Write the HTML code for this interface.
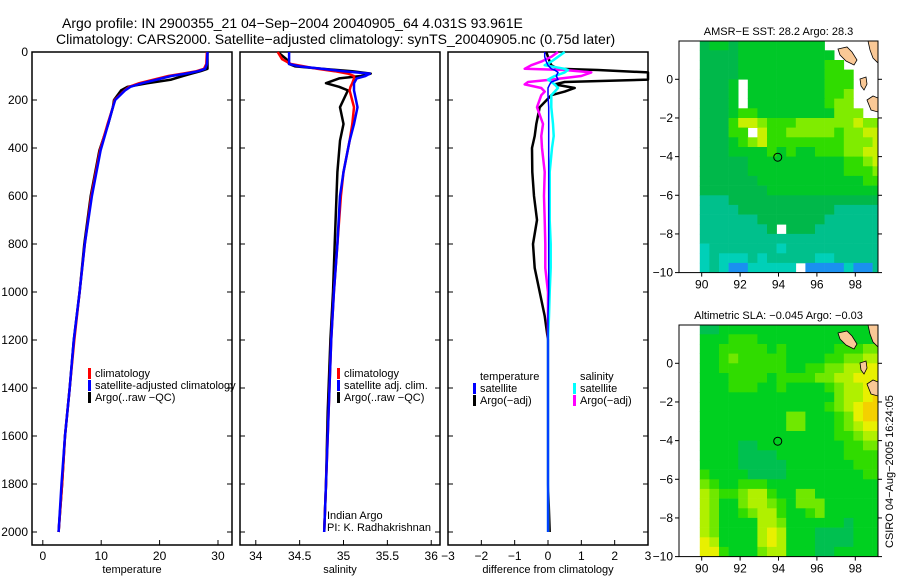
<!DOCTYPE html>
<html><head><meta charset="utf-8"><title>Argo profile</title>
<style>
html,body{margin:0;padding:0;background:#fff;}
svg{display:block;font-family:"Liberation Sans",sans-serif;}
text{font-size:12px;fill:#000;}
</style></head>
<body>
<svg id="fig" width="900" height="580" viewBox="0 0 900 580" xmlns="http://www.w3.org/2000/svg">
<text x="62" y="28" style="font-size:14px">Argo profile: IN 2900355_21 04−Sep−2004 20040905_64 4.031S 93.961E</text>
<text x="56" y="44" style="font-size:14px">Climatology: CARS2000. Satellite−adjusted climatology: synTS_20040905.nc (0.75d later)</text>
<g id="layer"></g>
</svg>
<script>
// ---- profile data ----
const depthTicks = [0,200,400,600,800,1000,1200,1400,1600,1800,2000];
const tempTicks = [0,10,20,30];
const salTicks = [34,34.5,35,35.5,36];
const diffTicks = [-3,-2,-1,0,1,2,3];

const tempDepth = [0,50,70,80,90,100,115,130,145,160,200,230,300,410,600,800,1000,1200,1400,1600,1800,2000];
const tempArgo  = [28.2,28.2,28.2,27.0,25.5,24.0,22.0,18.0,14.5,13.4,12.2,12.0,11.2,9.7,8.2,7.1,6.3,5.3,4.6,3.8,3.3,2.7];
const tempClim  = [28.1,28.0,27.6,26.3,24.0,21.5,19.0,16.5,14.8,14.0,12.3,12.0,11.1,9.8,8.3,7.2,6.3,5.4,4.6,3.8,3.3,2.7];
const tempSat   = [28.2,28.1,27.8,26.6,24.5,22.0,19.5,17.0,15.0,14.1,12.4,12.0,11.2,9.9,8.4,7.2,6.3,5.3,4.6,3.8,3.2,2.7];

const salDepth = [0,30,50,60,70,80,90,100,110,130,145,160,230,300,370,500,600,800,1000,1200,1500,1800,2000];
const salArgo  = [34.25,34.35,34.38,34.45,34.75,35.1,35.31,35.2,34.95,34.8,34.95,35.05,34.96,35.0,34.96,34.93,34.92,34.9,34.88,34.85,34.82,34.8,34.78];
const salClim  = [34.25,34.3,34.4,34.55,34.7,34.9,35.05,35.12,35.12,35.1,35.08,35.07,35.12,35.1,35.07,35.0,34.97,34.93,34.89,34.86,34.83,34.8,34.78];
const salSat   = [34.38,34.38,34.38,34.5,34.75,35.0,35.3,35.25,35.15,35.12,35.12,35.12,35.16,35.12,35.07,35.0,34.96,34.93,34.89,34.86,34.83,34.8,34.78];

const diffDepth    = [0,20,40,55,70,75,85,100,115,125,135,150,165,180,230,300,350,400,500,600,700,800,900,1000,1100,1200,1500,1800,2000];
const diffTempArgo = [-0.05,0,0.05,0.1,0.3,1.5,3.5,3.8,3.6,0.5,0.2,0.8,0.5,0.1,-0.25,-0.35,-0.4,-0.48,-0.47,-0.42,-0.33,-0.45,-0.4,-0.25,-0.1,0.0,0.0,0.0,0.05];
const diffTempSat  = [-0.1,-0.1,-0.05,0,0.1,0.2,0.3,0.25,0.3,0.1,0.05,0,0,0,0.02,0.02,0.02,0.02,0.02,0.02,0.02,0.02,0.02,0.02,0.0,0.0,0.0,0.0,0.0];
const diffSalSat   = [0.5,0.3,0.1,-0.1,0.5,0.6,0.5,0.2,0,0.1,0.2,0.3,0.2,0.1,0.1,0.15,0.17,0.12,0.05,0.05,0.05,0.08,0.08,0.05,0.03,0,0,0,0];
const diffSalArgo  = [0.3,0.1,-0.2,-0.5,-0.7,0.5,1.3,1.0,0.1,-0.6,-0.7,-0.2,-0.1,-0.2,-0.33,-0.15,-0.2,-0.18,-0.1,-0.12,-0.1,-0.08,-0.08,0,0,0,0,0,0];

// ---- map data (lat rows 2 -> -10 step 0.5, lon cols from 89.9 step 0.5) ----
const sstLevels = ["#1a90f0","#00d0b8","#00c08c","#00b84a","#00c828","#30dc00","#80ec00","#c8f000"];
const sstGrid = [
"3443444444444WWWWWW","33334444444444WWWWW","333344444444455WWWW","3333444444444555WWW",
"3334W44444444555WWW","3334W44444444556WWW","3334W44444444566WWW","33345544444444666WW",
"3335776555666666766","33355W7556666656677","3334567555555556667","3334444545445556677",
"3333344444444445567","3333344444444445556","3333334444444444455","3333333444444444444",
"2223333333333333333","2222333333333322222","2222223333333222222","22222223W3332222222",
"2222222222222222222","1222222212222222222","1211121222221122222","1210011111W00001002"];
const slaLevels = ["#00a070","#00b868","#00c050","#00d020","#30dc00","#70e800","#b0f000","#e8f000","#f4d000"];
const slaGrid = [
"2233333333333333333","3334443333333333333","3344444343333344455","3345444443333445566",
"3344444443344556677","3334444344445566777","3334443343333456678","3333333333333356678",
"3333333333333456788","3333333335533345788","3333333335533345677","3333333333333344566",
"3333223333333334455","3333222233333334444","3333222223333333444","4333322223333333344",
"5433444333333333333","6544566433553333333","6533566543555333333","6533456643345333333",
"6533336653333332333","6533336763332222333","7633336763332222333","7743335663332233333"];
const lonTicks = [90,92,94,96,98];
const latTicks = [0,-2,-4,-6,-8,-10];
const argoLon = 93.961, argoLat = -4.031;

const NS = "http://www.w3.org/2000/svg";
const layer = document.getElementById('layer');
function mk(tag, attrs, parent){const e=document.createElementNS(NS,tag);for(const k in attrs)e.setAttribute(k,attrs[k]);(parent||layer).appendChild(e);return e;}

const yTop=52, yBot=545;
const yD = d => yTop + d*0.2400;

function panel(name, x0, x1, vmin, vmax, ticks, title, fmt, showY){
  const xs = v => x0 + (v-vmin)/(vmax-vmin)*(x1-x0);
  const g = mk('g',{});
  
  
  const fr = mk('rect',{x:x0,y:yTop,width:x1-x0,height:yBot-yTop,fill:'none',stroke:'#000','stroke-width':1.5},g);
  
  
  depthTicks.forEach(d=>{
    const y=yD(d);
    mk('line',{x1:x0,x2:x0+5,y1:y,y2:y,stroke:'#000'},g);
    mk('line',{x1:x1-5,x2:x1,y1:y,y2:y,stroke:'#000'},g);
    if(showY){const t=mk('text',{x:28,y:y+4,'text-anchor':'end'},g);t.textContent=d;
      
      }
  });
  ticks.forEach(v=>{
    const x=xs(v);
    mk('line',{x1:x,x2:x,y1:yBot,y2:yBot-5,stroke:'#000'},g);
    const t=mk('text',{x:x,y:560,'text-anchor':'middle'},g);t.textContent=fmt(v);
    
    
  });
  const t=mk('text',{x:(x0+x1)/2,y:573,'text-anchor':'middle','style':'font-size:11px'},g);t.textContent=title;
  
  
  return {xs,g,x0,x1};
}
function line(p, depths, vals, color, name, w){
  const pts = depths.map((d,i)=>{let x=p.xs(vals[i]);x=Math.max(p.x0,Math.min(p.x1,x));return x.toFixed(1)+','+yD(d).toFixed(1);}).join(' ');
  const l = mk('polyline',{points:pts,fill:'none',stroke:color,'stroke-width':w||2.5,'stroke-linejoin':'round'},p.g);
  
  
}
function legend(p, x, y, items){
  items.forEach((it,i)=>{
    const yy=y+i*12;
    if(it.c) mk('rect',{x:x,y:yy-9,width:3,height:11,fill:it.c},p.g);
    const t=mk('text',{x:x+7,y:yy,'style':'font-size:11px'},p.g);t.textContent=it.t;
    
    
  });
}

const p1 = panel('temperature',32,232,-1.85,32.4,tempTicks,'temperature',v=>v,true);
line(p1,tempDepth,tempArgo,'#000','temp-argo-line');
line(p1,tempDepth,tempClim,'#f00','temp-climatology-line');
line(p1,tempDepth,tempSat,'#00f','temp-satellite-line');
legend(p1,88,377,[{c:'#f00',t:'climatology'},{c:'#00f',t:'satellite-adjusted climatology'},{c:'#000',t:'Argo(..raw −QC)'}]);

const p2 = panel('salinity',240,440,33.82,36.1,salTicks,'salinity',v=>v,false);
line(p2,salDepth,salArgo,'#000','sal-argo-line');
line(p2,salDepth,salClim,'#f00','sal-climatology-line');
line(p2,salDepth,salSat,'#00f','sal-satellite-line');
legend(p2,337,377,[{c:'#f00',t:'climatology'},{c:'#00f',t:'satellite adj. clim.'},{c:'#000',t:'Argo(..raw −QC)'}]);
legend(p2,320,519,[{t:'Indian Argo'},{t:'PI: K. Radhakrishnan'}]);

const p3 = panel('difference',448,648,-3,3,diffTicks,'difference from climatology',v=>v<0?'−'+(-v):v,false);
line(p3,diffDepth,diffTempArgo,'#000','diff-temp-argo-line');
line(p3,diffDepth,diffSalArgo,'#f0f','diff-sal-argo-line');
line(p3,diffDepth,diffSalSat,'#0ff','diff-sal-satellite-line');
line(p3,diffDepth,diffTempSat,'#00f','diff-temp-satellite-line',1.5);
legend(p3,473,380,[{t:'temperature'},{c:'#00f',t:'satellite'},{c:'#000',t:'Argo(−adj)'}]);
legend(p3,573,380,[{t:'salinity'},{c:'#0ff',t:'satellite'},{c:'#f0f',t:'Argo(−adj)'}]);

// ---- maps ----
function map(name, yTopM, lat0Y, grid, levels, title){
  const fx0=679, fx1=878, yBotM=lat0Y+10*19.33;
  const lx = lon => 701.7 + (lon-90)*19.2;
  const ly = lat => lat0Y - lat*19.33;
  const g = mk('g',{});
  
  
  const clip = mk('clipPath',{id:name+'-clip'},g);
  mk('rect',{x:fx0,y:yTopM,width:fx1-fx0,height:yBotM-yTopM},clip);
  const cells = mk('g',{'clip-path':'url(#'+name+'-clip)'},g);
  grid.forEach((row,r)=>{
    const lat=2-r*0.5;
    for(let c=0;c<row.length;c++){
      const ch=row[c]; if(ch==='W') continue;
      const lon=89.9+c*0.5;
      const cell=mk('rect',{x:lx(lon).toFixed(1),y:ly(lat).toFixed(1),width:9.9,height:10,fill:levels[+ch]},cells);
      
      
    }
  });
  const off = lat0Y-79.3;
  [[838,49,847,47,852,52,857,60,854,65,846,61,840,55],[868,41,878,41,878,63,873,58,870,50],
   [860,79,866,77,867,84,864,90,861,86],[867,100,873,96,878,98,878,112,871,110]].forEach(pg=>{
    const pts=[];for(let i=0;i<pg.length;i+=2)pts.push(pg[i]+','+(pg[i+1]+off));
    const lp=mk('polygon',{points:pts.join(' '),fill:'#f9c896',stroke:'#000','stroke-width':0.8},cells);
    
    
  });
  const fr=mk('rect',{x:fx0,y:yTopM,width:fx1-fx0,height:yBotM-yTopM,fill:'none',stroke:'#000','stroke-width':1},g);
  
  
  lonTicks.forEach(v=>{const x=lx(v);mk('line',{x1:x,x2:x,y1:yBotM,y2:yBotM+4,stroke:'#000'},g);
    const t=mk('text',{x:x,y:yBotM+16,'text-anchor':'middle'},g);t.textContent=v;
    
    });
  latTicks.forEach(v=>{const y=ly(v);mk('line',{x1:fx0-4,x2:fx0,y1:y,y2:y,stroke:'#000'},g);
    mk('line',{x1:fx1,x2:fx1+4,y1:y,y2:y,stroke:'#000'},g);
    const t=mk('text',{x:fx0-6,y:y+4,'text-anchor':'end'},g);t.textContent=v<0?'−'+(-v):v;
    
    });
  const c=mk('circle',{cx:lx(argoLon),cy:ly(argoLat),r:4,fill:'none',stroke:'#000','stroke-width':1},g);
  
  
  const t=mk('text',{x:(fx0+fx1)/2,y:yTopM-6,'text-anchor':'middle','style':'font-size:11px'},g);t.textContent=title;
  
  
}
map('sst',41,79.3,sstGrid,sstLevels,'AMSR−E SST: 28.2 Argo: 28.3');
map('sla',325,363.3,slaGrid,slaLevels,'Altimetric SLA: −0.045 Argo: −0.03');
const cr=mk('text',{x:0,y:0,transform:'translate(893,548) rotate(-90)','style':'font-size:11px'});
cr.textContent='CSIRO 04−Aug−2005 16:24:05';


</script>
</body></html>
